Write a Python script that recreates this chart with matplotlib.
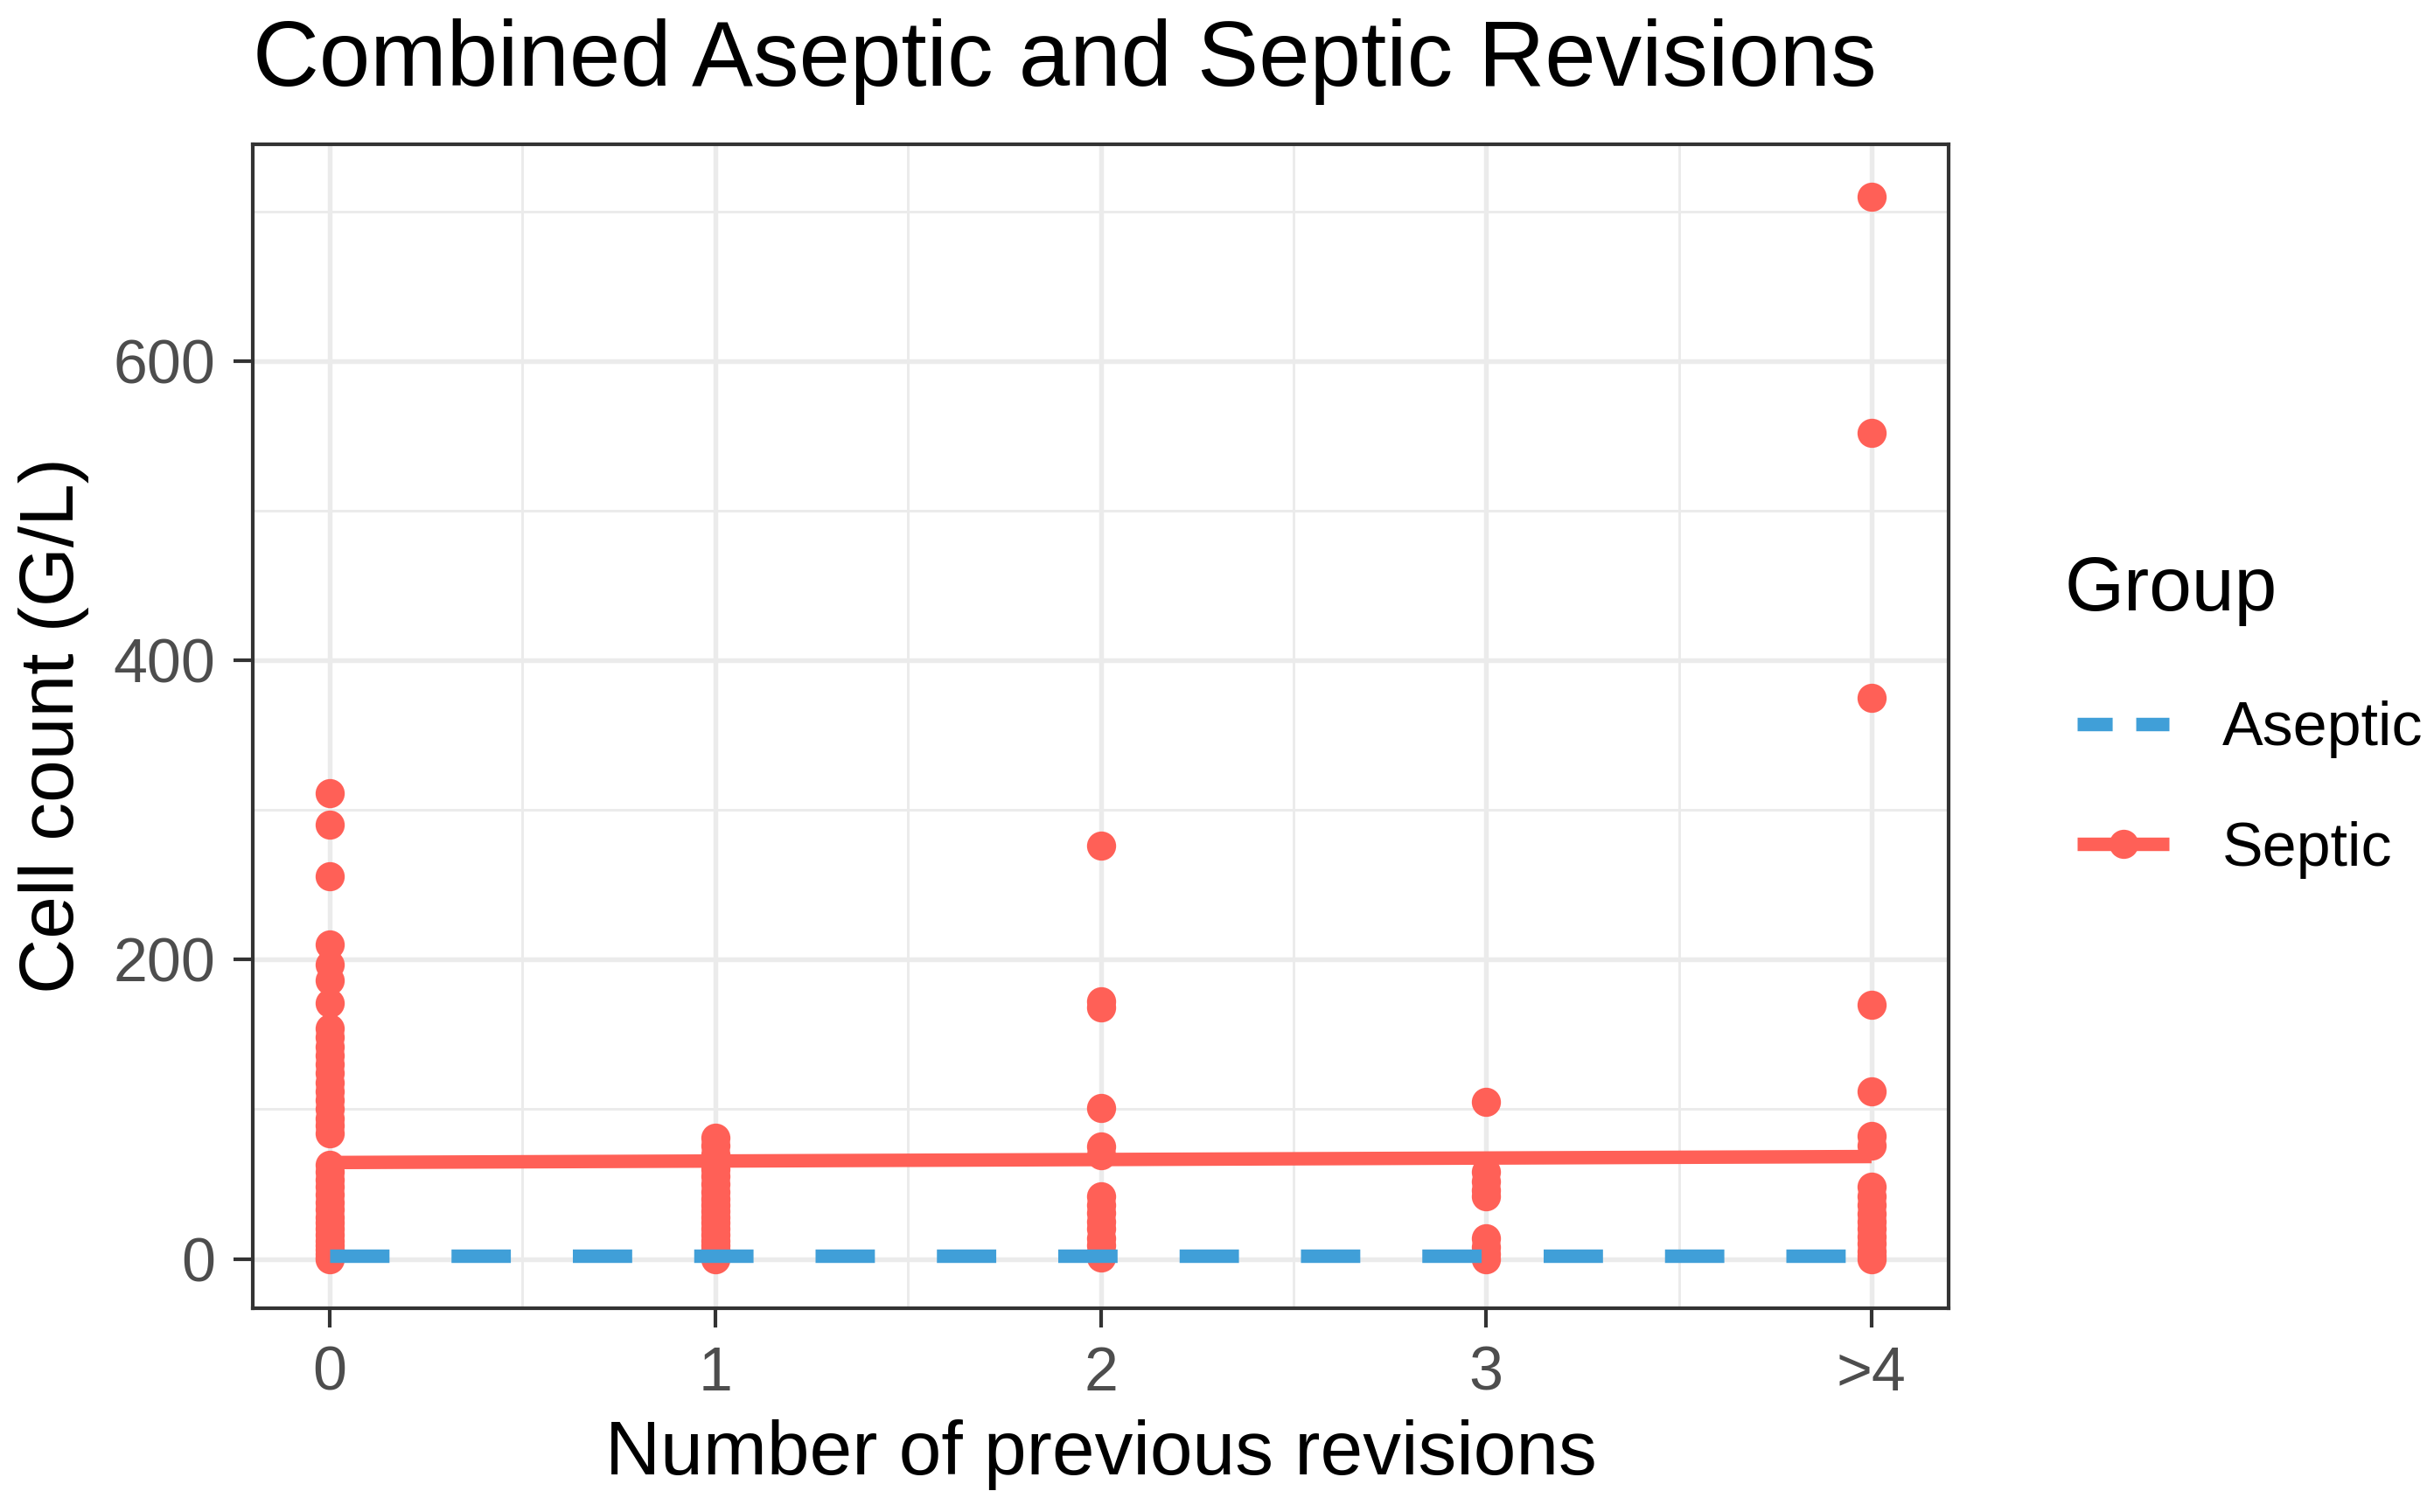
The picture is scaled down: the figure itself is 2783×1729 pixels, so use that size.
import matplotlib
matplotlib.use("Agg")
import matplotlib.pyplot as plt
from matplotlib.lines import Line2D
from matplotlib.ticker import MultipleLocator, FixedLocator

plt.rcParams["font.family"] = ["Liberation Sans", "DejaVu Sans"]

# data
revision_pos = [0, 1, 2, 3, 4]
revision_labels = ["0", "1", "2", "3", ">4"]

septic_0 = [311, 290, 256, 210, 197, 186, 171, 154, 148, 142, 136, 130, 124,
            118, 112, 106, 100, 94, 89, 84, 63, 58, 53, 48, 43, 38, 33, 28,
            24, 20, 16, 12, 9, 6, 3, 1, 0]
septic_1 = [81, 76, 70, 65, 60, 55, 50, 45, 40, 36, 32, 28, 24, 20, 16, 12,
            9, 6, 3, 1, 0]
septic_2 = [276, 172, 168, 101, 75, 69, 42, 36, 31, 25, 20, 14, 9, 4, 1]
septic_3 = [105, 58, 52, 46, 42, 14, 8, 3, 0]
septic_4 = [710, 552, 375, 170, 112, 82, 76, 48, 42, 36, 30, 25, 20, 15, 10,
            5, 2, 0]
septic_points = [septic_0, septic_1, septic_2, septic_3, septic_4]

# fitted lines per group at each revision count
septic_fit = [64.4, 65.4, 66.4, 67.4, 68.4]
aseptic_fit = [2.0, 2.0, 2.0, 2.0, 2.0]

red = "#FF6057"
blue = "#409FD8"

W, H = 2783, 1729
fig = plt.figure(figsize=(W / 300, H / 300), dpi=300)
ax = fig.add_axes([289 / W, 1 - 1496 / H, (2228 - 289) / W, (1496 - 165) / H])

for xpos, vals in zip(revision_pos, septic_points):
    ax.plot([xpos] * len(vals), vals, "o", color=red, ms=8, mew=0, zorder=3)

ax.plot(revision_pos, septic_fit, color=red, lw=3.7, solid_capstyle="butt", zorder=4)
ax.plot(revision_pos, aseptic_fit, color=blue, lw=3.7,
        linestyle=(0, (4.4, 4.6)), dash_capstyle="butt", zorder=5)

ax.set_xlim(-0.2, 4.2)
ax.set_ylim(-33, 745)
ax.xaxis.set_major_locator(FixedLocator(revision_pos))
ax.set_xticklabels(revision_labels)
ax.xaxis.set_minor_locator(FixedLocator([0.5, 1.5, 2.5, 3.5]))
ax.yaxis.set_major_locator(MultipleLocator(200))
ax.yaxis.set_minor_locator(FixedLocator([100, 300, 500, 700]))

ax.grid(which="major", color="#EBEBEB", lw=1.3, zorder=0)
ax.grid(which="minor", color="#EBEBEB", lw=0.7, zorder=0)
ax.set_axisbelow(True)
for s in ax.spines.values():
    s.set_color("#333333")
    s.set_linewidth(1.0)
ax.tick_params(which="major", length=5.2, width=1.0, color="#333333",
               labelsize=16.8, labelcolor="#4D4D4D", pad=5)
ax.tick_params(which="minor", length=0)

fig.text(289 / W, 1 - 98 / H, "Combined Aseptic and Septic Revisions",
         fontsize=25.2, ha="left", va="baseline")
fig.text(0.5 * (289 + 2228) / W, 1 - 1663 / H, "Number of previous revisions",
         fontsize=21, ha="center", va="center")
fig.text(62 / W, 1 - 830 / H, "Cell count (G/L)", fontsize=21,
         rotation=90, ha="center", va="center")

# legend
fig.text(2361 / W, 1 - 676 / H, "Group", fontsize=21, ha="left", va="center")
handles = [
    Line2D([], [], color=blue, lw=3.7, linestyle=(0, (2.6, 1.75)), dash_capstyle="butt"),
    Line2D([], [], color=red, lw=3.7, marker="o", ms=8, mew=0, solid_capstyle="butt"),
]
fig.legend(handles, ["Aseptic", "Septic"], loc="center left",
           bbox_to_anchor=(2375 / W, 1 - 903 / H), frameon=False,
           fontsize=16.8, handlelength=1.5, handletextpad=0.87,
           labelspacing=1.02, borderpad=0, borderaxespad=0, numpoints=1)

fig.savefig("out.png", dpi=300, facecolor="white")
